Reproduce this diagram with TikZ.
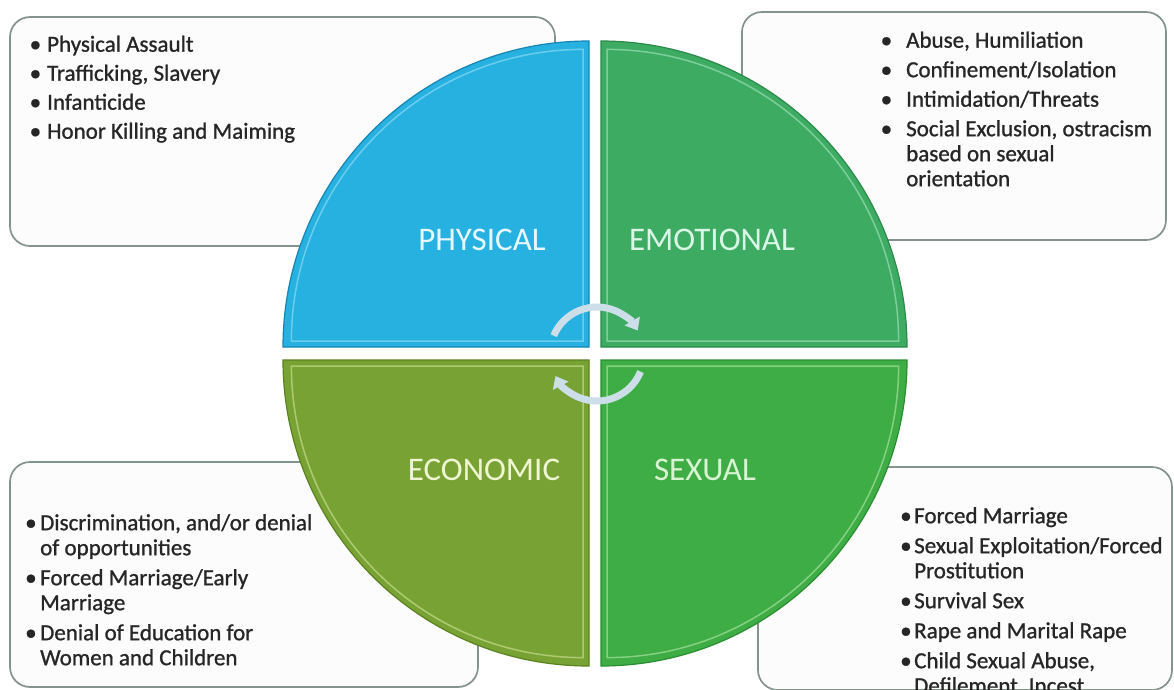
\documentclass[tikz,border=0pt]{standalone}
\usepackage{fontspec}
\setmainfont{Carlito}
\newfontfamily\listfont[FakeBold=1.0]{Carlito}
\usetikzlibrary{arrows.meta}

\definecolor{physfill}{HTML}{26B1E1}
\definecolor{physedge}{HTML}{1585B5}
\definecolor{physlight}{HTML}{9ADFF5}
\definecolor{emofill}{HTML}{3DAB62}
\definecolor{emoedge}{HTML}{2A8A4A}
\definecolor{emolight}{HTML}{A8E6BC}
\definecolor{ecofill}{HTML}{79A234}
\definecolor{ecoedge}{HTML}{5B8220}
\definecolor{ecolight}{HTML}{D2E69A}
\definecolor{sexfill}{HTML}{3EAD45}
\definecolor{sexedge}{HTML}{2A8E31}
\definecolor{sexlight}{HTML}{B2EAAA}
\definecolor{physlab}{HTML}{E6F8FD}
\definecolor{emolab}{HTML}{DAF6E6}
\definecolor{ecolab}{HTML}{EFF6D2}
\definecolor{sexlab}{HTML}{D8F4D2}
\definecolor{boxedge}{HTML}{85938D}
\definecolor{boxfill}{HTML}{FCFCFC}
\definecolor{itemcol}{HTML}{262626}
\definecolor{cyccol}{HTML}{CCDFE9}

% bullet set in a box of the given width
\newcommand\bl[1]{\makebox[#1][l]{•}}

\begin{document}
\begin{tikzpicture}[x=1pt,y=-1pt,
  infobox/.style={draw=boxedge, fill=boxfill, line width=1.7pt, rounded corners=20pt},
  itemtext/.style={anchor=north west, inner sep=0pt, align=left, text=itemcol,
    font=\listfont\fontsize{23}{25}\selectfont},
  qlabel/.style={font=\fontsize{33}{33}\selectfont, inner sep=0pt},
  bevel/.style={line width=1.5pt, opacity=.6},
  cyc/.style={draw=cyccol, line width=7pt, -{Triangle[width=17pt,length=11pt]}},
]
\useasboundingbox (0,0) rectangle (1174,689);
\fill[white] (0,0) rectangle (1174,689);

% information boxes (behind the circle)
\path[infobox] (10,17) rectangle (555,246);
\path[infobox] (742,12) rectangle (1166,240);
\path[infobox] (10,462) rectangle (478,687);
\path[infobox] (758,467) rectangle (1172,690);

% the four quadrants
\path[fill=physfill, draw=physedge, line width=1.2pt]
  (589,347) -- (283,347) arc[start angle=180, end angle=90, radius=306pt] -- cycle;
\path[fill=emofill, draw=emoedge, line width=1.2pt]
  (601,347) -- (601,41) arc[start angle=90, end angle=0, radius=306pt] -- cycle;
\path[fill=ecofill, draw=ecoedge, line width=1.2pt]
  (589,360) -- (283,360) arc[start angle=180, end angle=270, radius=306pt] -- cycle;
\path[fill=sexfill, draw=sexedge, line width=1.2pt]
  (601,360) -- (907,360) arc[start angle=0, end angle=-90, radius=306pt] -- cycle;

% inner bevel highlights
\draw[bevel, physlight] (583,341) -- (291.4,341) arc[start angle=180, end angle=90, radius=291.6pt] -- cycle;
\draw[bevel, emolight] (607,341) -- (607,49.4) arc[start angle=90, end angle=0, radius=291.6pt] -- cycle;
\draw[bevel, ecolight] (583,366) -- (291.4,366) arc[start angle=180, end angle=270, radius=291.6pt] -- cycle;
\draw[bevel, sexlight] (607,366) -- (898.6,366) arc[start angle=0, end angle=-90, radius=291.6pt] -- cycle;

% quadrant titles
\node[qlabel, text=physlab] (physical) at (482,240) {PHYSICAL};
\node[qlabel, text=emolab] (emotional) at (712,240) {EMOTIONAL};
\node[qlabel, text=ecolab] (economic) at (484,470) {ECONOMIC};
\node[qlabel, text=sexlab] (sexual) at (705,470) {SEXUAL};

% circular arrows around the hub
\coordinate (hub) at (597,354);
\draw[cyc] ([shift={(157:47pt)}]hub) arc[start angle=157, end angle=30, radius=47pt];
\draw[cyc] ([shift={(-22:47pt)}]hub) arc[start angle=-22, end angle=-152, radius=47pt];

% lists
\node[itemtext] (physlist) at (29.5,34) {\strut\bl{17.5pt}Physical Assault\\[4pt]
  \bl{17.5pt}Trafficking, Slavery\\[4pt]
  \bl{17.5pt}Infanticide\\[4pt]
  \bl{17.5pt}Honor Killing and Maiming};
\node[itemtext] (emolist) at (880.5,30) {\strut\bl{25.5pt}Abuse, Humiliation\\[4.5pt]
  \bl{25.5pt}Confinement/Isolation\\[4.5pt]
  \bl{25.5pt}Intimidation/Threats\\[4.5pt]
  \bl{25.5pt}Social Exclusion, ostracism\\
  \hspace*{25.5pt}based on sexual\\
  \hspace*{25.5pt}orientation};
\node[itemtext] (ecolist) at (25,512.5) {\strut\bl{15pt}Discrimination, and/or denial\\
  \hspace*{15pt}of opportunities\\[5pt]
  \bl{15pt}Forced Marriage/Early\\
  \hspace*{15pt}Marriage\\[5pt]
  \bl{15pt}Denial of Education for\\
  \hspace*{15pt}Women and Children};
\node[itemtext] (sexlist) at (900,505.5) {\strut\bl{14pt}Forced Marriage\\[5pt]
  \bl{14pt}Sexual Exploitation/Forced\\
  \hspace*{14pt}Prostitution\\[5pt]
  \bl{14pt}Survival Sex\\[5pt]
  \bl{14pt}Rape and Marital Rape\\[5pt]
  \bl{14pt}Child Sexual Abuse,\\
  \hspace*{14pt}Defilement, Incest};
\end{tikzpicture}
\end{document}
